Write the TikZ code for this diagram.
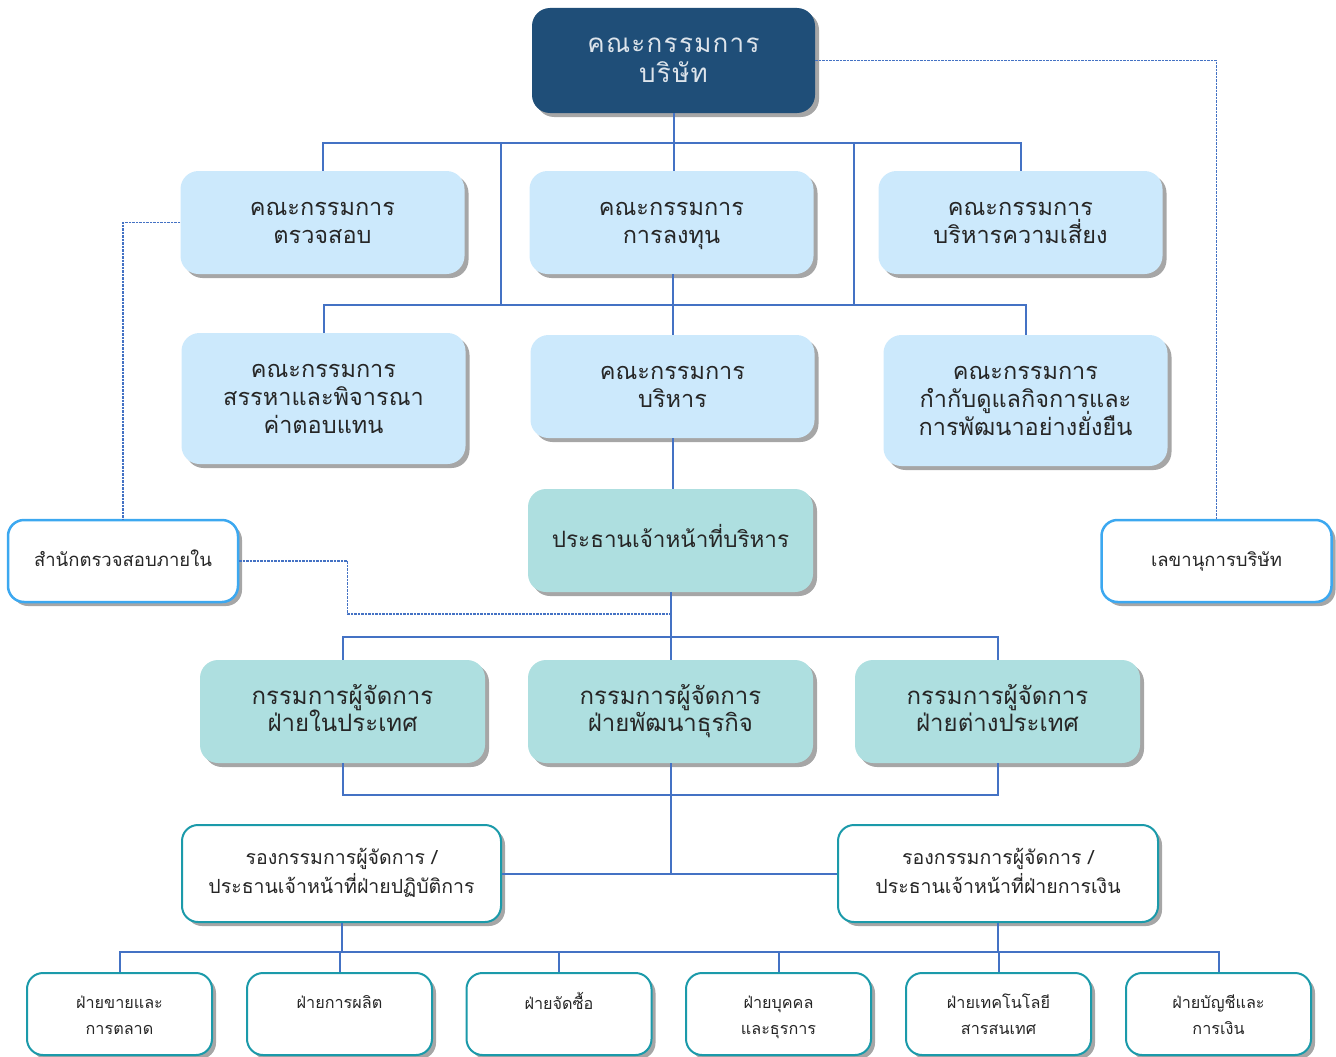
\documentclass[tikz,border=0pt]{standalone}
\usepackage{fontspec}
\newfontfamily\thai[Script=Thai]{Loma}
\usetikzlibrary{shadows}
\definecolor{cdark}{HTML}{1F4E78}
\definecolor{clight}{HTML}{CCE9FC}
\definecolor{cteal}{HTML}{AEDFE0}
\definecolor{cline}{HTML}{4472C4}
\definecolor{cside}{HTML}{3CA8F0}
\definecolor{cvp}{HTML}{1B9AAA}
\definecolor{ctext}{HTML}{262626}
\definecolor{cshadow}{HTML}{A6A6A6}
\newcommand\tst{\rule{0pt}{1.0em}}
\newcommand\bst{\rule[-0.44em]{0pt}{0.44em}}
\newcommand\bsu{\rule[-0.07em]{0pt}{0.07em}}
\newcommand\fixskip{\lineskiplimit=-100pt\lineskip=0pt}
\tikzset{
  box/.style={rounded corners=18pt, align=center, inner sep=0pt, text=ctext,
    drop shadow={shadow xshift=4pt, shadow yshift=-4pt, fill=cshadow, opacity=1}},
  boardbox/.style={box, fill=cdark, text=white!85!cdark, minimum width=283pt, minimum height=105pt,
    font=\thai\fontsize{26}{30}\selectfont\addfontfeature{LetterSpace=5}\fixskip},
  commbox/.style={box, fill=clight, minimum width=284pt, minimum height=103pt,
    font=\thai\fontsize{23.5}{28}\selectfont\fixskip},
  execbox/.style={box, fill=cteal, minimum width=285pt, minimum height=103pt,
    font=\thai\fontsize{24}{27}\selectfont\fixskip},
  sidebox/.style={box, fill=white, draw=cside, line width=2.5pt, rounded corners=16pt,
    minimum width=230pt, minimum height=82pt, font=\thai\fontsize{18.5}{22}\selectfont\fixskip},
  vpbox/.style={box, fill=white, draw=cvp, line width=2pt, rounded corners=16pt,
    minimum width=319pt, minimum height=97pt, font=\thai\fontsize{19.5}{29}\selectfont\fixskip},
  unitbox/.style={box, fill=white, draw=cvp, line width=2pt, rounded corners=16pt,
    minimum width=185pt, minimum height=82pt, font=\thai\fontsize{16.2}{26}\selectfont\fixskip},
  conn/.style={draw=cline, line width=2pt},
  dconn/.style={draw=cline, line width=1.6pt, dash pattern=on 2.5pt off 1pt},
}
\begin{document}
\begin{tikzpicture}[x=1pt, y=-1pt]
\useasboundingbox (0,0) rectangle (1336,1057);
% nodes
\node[boardbox] (board) at (673.5,60.5) {\tst คณะกรรมการ\\บริษัท\bst};
\node[commbox] (audit) at (322.5,222.5) {\tst คณะกรรมการ\\ตรวจสอบ\bst};
\node[commbox] (invest) at (671.5,222.5) {\tst คณะกรรมการ\\การลงทุน\bst};
\node[commbox] (risk) at (1020.5,222.5) {\tst คณะกรรมการ\\บริหารความเสี่ยง\bst};
\node[commbox, minimum height=131pt] (nomin) at (323.5,398.5) {\tst คณะกรรมการ\\สรรหาและพิจารณา\\ค่าตอบแทน\bst};
\node[commbox] (exco) at (672.5,386.5) {\tst คณะกรรมการ\\บริหาร\bst};
\node[commbox, minimum height=131pt] (cg) at (1025.5,400.5) {\tst คณะกรรมการ\\กำกับดูแลกิจการและ\\การพัฒนาอย่างยั่งยืน\bst};
\node[execbox, font=\thai\fontsize{22.5}{27}\selectfont\fixskip] (ceo) at (670.5,540.5) {\tst ประธานเจ้าหน้าที่บริหาร\bst};
\node[sidebox] (ia) at (123,561) {\tst สำนักตรวจสอบภายใน\bst};
\node[sidebox] (sec) at (1216.5,561) {\tst เลขานุการบริษัท\bst};
\node[execbox] (md1) at (342.5,711.5) {\tst กรรมการผู้จัดการ\\ฝ่ายในประเทศ\bst};
\node[execbox] (md2) at (670.5,711.5) {\tst กรรมการผู้จัดการ\\ฝ่ายพัฒนาธุรกิจ\bst};
\node[execbox] (md3) at (997.5,711.5) {\tst กรรมการผู้จัดการ\\ฝ่ายต่างประเทศ\bst};
\node[vpbox] (vp1) at (341.5,873.5) {\tst รองกรรมการผู้จัดการ /\\ประธานเจ้าหน้าที่ฝ่ายปฏิบัติการ\bst};
\node[vpbox, minimum width=320pt] (vp2) at (998,873.5) {\tst รองกรรมการผู้จัดการ /\\ประธานเจ้าหน้าที่ฝ่ายการเงิน\bst};
\node[unitbox] (u1) at (119.5,1014) {\tst ฝ่ายขายและ\\การตลาด\bsu};
\node[unitbox] (u2) at (339.5,1014) {\tst ฝ่ายการผลิต\\\bsu};
\node[unitbox] (u3) at (559,1014) {\tst ฝ่ายจัดซื้อ\\\bsu};
\node[unitbox] (u4) at (778.5,1014) {\tst ฝ่ายบุคคล\\\smash{และธุรการ}\bsu};
\node[unitbox] (u5) at (998.5,1014) {\tst ฝ่ายเทคโนโลยี\\สารสนเทศ\bsu};
\node[unitbox] (u6) at (1218.5,1014) {\tst ฝ่ายบัญชีและ\\การเงิน\bsu};
% connectors
\coordinate (b1) at (673.5,143);
\coordinate (b1l) at (500.5,143);
\coordinate (b1r) at (853.5,143);
\coordinate (b2) at (672.5,305);
\coordinate (b2l) at (500.5,305);
\coordinate (b2r) at (853.5,305);
\draw[conn] (board.south) -- (b1);
\draw[conn] (audit.north) |- (b1) -| (risk.north);
\draw[conn] (b1) -- (b1 |- invest.north);
\draw[conn] (b1l) -- (b2l);
\draw[conn] (b1r) -- (b2r);
\draw[conn] (b2 |- invest.south) -- (b2);
\draw[conn] (nomin.north) |- (b2) -| (cg.north);
\draw[conn] (b2) -- (exco.north);
\draw[conn] (exco.south) -- (exco.south |- ceo.north);
\coordinate (b3) at (670.5,637);
\draw[conn] (ceo.south) -- (b3);
\draw[conn] (md1.north) |- (b3) -| (md3.north);
\draw[conn] (b3) -- (md2.north);
\coordinate (b4) at (670.5,795);
\draw[conn] (md1.south) |- (b4) -| (md3.south);
\draw[conn] (md2.south) -- (b4);
\coordinate (b5) at (b4 |- vp1.east);
\draw[conn] (b4) -- (b5);
\draw[conn] (vp1.east) -- (vp2.west);
\coordinate (bus6) at (0,952);
\draw[conn] (vp1.south) -- (vp1.south |- bus6);
\draw[conn] (vp2.south) -- (vp2.south |- bus6);
\draw[conn] (u1.north) |- (u6.north |- bus6) -- (u6.north);
\draw[conn] (u2.north) -- (u2.north |- bus6);
\draw[conn] (u3.north) -- (u3.north |- bus6);
\draw[conn] (u4.north) -- (u4.north |- bus6);
\draw[conn] (u5.north) -- (u5.north |- bus6);
% dashed
\draw[dconn] (board.east) -| (sec.north);
\draw[dconn] (audit.west) -| (ia.north);
\coordinate (d1) at (347.5,614);
\coordinate (d2) at (ceo.south |- d1);
\draw[dconn] (ia.east) -| (d1) -- (d2);
\end{tikzpicture}
\end{document}
